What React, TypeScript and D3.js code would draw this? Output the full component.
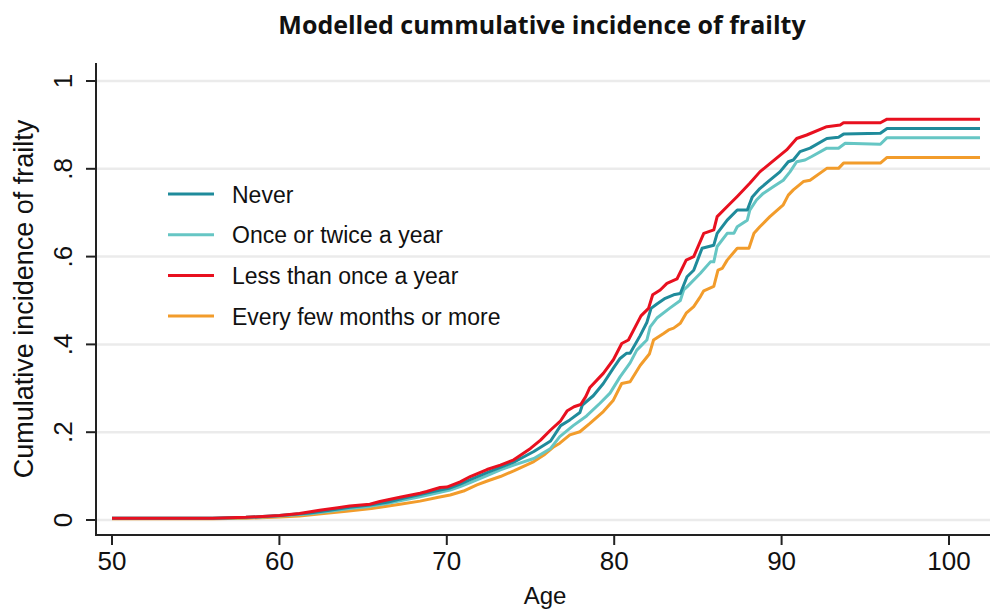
import React from "react";
import * as d3 from "d3";

const title = "Modelled cummulative incidence of frailty";
const xTicks = [50, 60, 70, 80, 90, 100];
const yTicks = [0, 0.2, 0.4, 0.6, 0.8, 1];
const yTickLabels = ["0", ".2", ".4", ".6", ".8", "1"];
const seriesNames = ["Never", "Once or twice a year", "Less than once a year", "Every few months or more"];
const seriesColors = ["#1f8b9b", "#66c6c4", "#e8101f", "#f29c2b"];

// [age, cumulative incidence]
const never: [number, number][] = [
  [50, 0.004], [56, 0.004], [58, 0.006], [60, 0.01], [61.8, 0.016], [63, 0.022], [64.2, 0.029], [65.4, 0.034],
  [66.5, 0.041], [67.2, 0.048], [68.4, 0.058], [69.6, 0.068], [70.2, 0.073], [70.8, 0.082], [71.4, 0.092],
  [72.4, 0.108], [73.2, 0.12], [74, 0.132], [75.2, 0.156], [76.2, 0.18], [76.8, 0.215], [77.35, 0.228],
  [77.95, 0.245], [78.1, 0.262], [78.75, 0.283], [79.35, 0.311], [79.95, 0.346], [80.35, 0.368], [80.75, 0.38],
  [80.95, 0.38], [81.55, 0.42], [81.95, 0.45], [82.2, 0.482], [82.55, 0.492], [83.05, 0.505], [83.55, 0.513],
  [83.95, 0.516], [84.35, 0.554], [84.75, 0.569], [85.25, 0.619], [85.95, 0.626], [86.15, 0.653], [86.75, 0.683],
  [87.35, 0.706], [87.95, 0.706], [88.25, 0.736], [88.7, 0.755], [89.3, 0.774], [89.9, 0.793], [90.4, 0.816],
  [90.7, 0.82], [91.1, 0.839], [91.7, 0.847], [92.7, 0.869], [93.4, 0.872], [93.7, 0.879], [95.9, 0.881],
  [96.3, 0.892], [101.85, 0.892],
];

const onceTwice: [number, number][] = [
  [50, 0.004], [56, 0.004], [58, 0.005], [60, 0.009], [61.8, 0.014], [63, 0.02], [64.2, 0.026], [65.4, 0.031],
  [66.5, 0.038], [67.2, 0.044], [68.4, 0.053], [69.6, 0.063], [70.2, 0.068], [70.8, 0.076], [71.4, 0.085],
  [72.4, 0.101], [73.2, 0.114], [74, 0.125], [75.2, 0.14], [76.2, 0.163], [76.75, 0.19], [77.55, 0.215],
  [78.35, 0.237], [79.15, 0.266], [79.75, 0.289], [80.35, 0.326], [80.95, 0.358], [81.35, 0.387], [81.95, 0.41],
  [82.15, 0.44], [82.55, 0.46], [83.3, 0.482], [83.95, 0.5], [84.15, 0.524], [84.35, 0.531], [85.15, 0.562],
  [85.75, 0.588], [85.95, 0.588], [86.15, 0.623], [86.75, 0.653], [87.15, 0.653], [87.35, 0.668], [87.95, 0.683],
  [88.1, 0.706], [88.5, 0.729], [88.9, 0.744], [89.5, 0.759], [90.1, 0.774], [90.5, 0.793], [90.9, 0.816],
  [91.4, 0.82], [91.8, 0.828], [92.7, 0.847], [93.4, 0.847], [93.8, 0.858], [95.9, 0.856], [96.3, 0.871],
  [101.85, 0.871],
];

const lessThanOnce: [number, number][] = [
  [50, 0.004], [56, 0.004], [58, 0.006], [60, 0.01], [61.2, 0.015], [62.4, 0.022], [63.5, 0.028], [64.2, 0.032],
  [65.4, 0.036], [66, 0.042], [67.2, 0.052], [68.4, 0.061], [68.8, 0.065], [69.6, 0.074], [70, 0.075],
  [70.8, 0.087], [71.4, 0.099], [72.4, 0.115], [73.2, 0.125], [74, 0.137], [75, 0.163], [75.6, 0.182],
  [76.2, 0.205], [76.8, 0.226], [77.2, 0.249], [77.6, 0.258], [78, 0.263], [78.3, 0.281], [78.55, 0.302],
  [79.15, 0.326], [79.35, 0.334], [79.95, 0.365], [80.45, 0.402], [80.85, 0.41], [81.6, 0.465], [82.05, 0.482],
  [82.3, 0.513], [82.75, 0.524], [83.15, 0.539], [83.75, 0.549], [84.3, 0.592], [84.75, 0.6], [85.35, 0.653],
  [85.95, 0.661], [86.15, 0.691], [86.75, 0.714], [87.35, 0.737], [88.1, 0.767], [88.7, 0.793], [89.3, 0.812],
  [90.3, 0.843], [90.9, 0.869], [91.5, 0.877], [92.7, 0.896], [93.5, 0.9], [93.7, 0.905], [95.9, 0.905],
  [96.3, 0.913], [101.85, 0.913],
];

const everyFewMonths: [number, number][] = [
  [50, 0.003], [56, 0.003], [58, 0.004], [60, 0.007], [61.2, 0.009], [62.5, 0.014], [64, 0.02], [65.5, 0.026],
  [67.2, 0.036], [68.4, 0.043], [69.5, 0.052], [70.2, 0.057], [71, 0.066], [71.8, 0.08], [72.5, 0.09],
  [73.2, 0.099], [74, 0.112], [75.2, 0.133], [75.8, 0.148], [76.4, 0.167], [76.75, 0.175], [77.35, 0.194],
  [77.95, 0.201], [78.55, 0.22], [79.35, 0.247], [79.95, 0.273], [80.45, 0.311], [80.95, 0.315], [81.55, 0.352],
  [82.1, 0.378], [82.35, 0.41], [82.95, 0.425], [83.25, 0.433], [83.55, 0.437], [83.95, 0.448], [84.3, 0.471],
  [84.75, 0.486], [85.15, 0.509], [85.35, 0.522], [85.95, 0.532], [86.2, 0.569], [86.45, 0.573], [86.75, 0.592],
  [87.35, 0.619], [88.05, 0.619], [88.35, 0.653], [88.7, 0.668], [89.3, 0.691], [90.1, 0.718], [90.4, 0.74],
  [90.7, 0.752], [91.3, 0.771], [91.7, 0.774], [92.7, 0.801], [93.4, 0.801], [93.7, 0.813], [95.9, 0.813],
  [96.3, 0.826], [101.85, 0.826],
];

const allSeries = [never, onceTwice, lessThanOnce, everyFewMonths];
const drawOrder = [3, 1, 0, 2];

const W = 990;
const H = 609;
const axisX = 96;
const axisY = 535;
const rightEdge = 990;
const axisTop = 63;

export default function App() {
  const x = d3.scaleLinear().domain([50, 100]).range([112, 949]);
  const y = d3.scaleLinear().domain([0, 1]).range([520, 81]);
  const line = d3
    .line<[number, number]>()
    .x((d) => x(d[0]))
    .y((d) => y(d[1]))
    .curve(d3.curveLinear);

  const font = "'Liberation Sans', Arial, Helvetica, sans-serif";

  return (
    <svg
      width={W}
      height={H}
      viewBox={`0 0 ${W} ${H}`}
      style={{ position: "absolute", left: 0, top: 0, background: "#fff" }}
    >
      <rect x={0} y={0} width={W} height={H} fill="#fff" />
      <text
        x={542}
        y={34}
        textAnchor="middle"
        fontFamily="'Open Sans', 'DejaVu Sans', sans-serif"
        fontWeight={700}
        fontSize={25}
        fill="#111"
      >
        {title}
      </text>

      {/* gridlines */}
      {yTicks.map((t) => (
        <line key={"g" + t} x1={axisX + 1} x2={rightEdge} y1={y(t)} y2={y(t)} stroke="#ebebeb" strokeWidth={2.5} />
      ))}

      {/* series */}
      {drawOrder.map((i) => (
        <path
          key={seriesNames[i]}
          d={line(allSeries[i]) || ""}
          fill="none"
          stroke={seriesColors[i]}
          strokeWidth={3}
          strokeLinejoin="round"
        />
      ))}

      {/* axes */}
      <line x1={axisX} x2={axisX} y1={axisTop} y2={axisY + 1} stroke="#222" strokeWidth={2} />
      <line x1={axisX - 1} x2={rightEdge} y1={axisY} y2={axisY} stroke="#222" strokeWidth={2} />

      {yTicks.map((t, i) => (
        <g key={"yt" + t}>
          <line x1={axisX - 10} x2={axisX} y1={y(t)} y2={y(t)} stroke="#222" strokeWidth={2} />
          <text
            transform={`translate(${72},${y(t)}) rotate(-90)`}
            textAnchor="middle"
            fontFamily={font}
            fontSize={26}
            fill="#111"
          >
            {yTickLabels[i]}
          </text>
        </g>
      ))}

      {xTicks.map((t) => (
        <g key={"xt" + t}>
          <line x1={x(t)} x2={x(t)} y1={axisY} y2={axisY + 10} stroke="#222" strokeWidth={2} />
          <text x={x(t)} y={570} textAnchor="middle" fontFamily={font} fontSize={26} fill="#111">
            {t}
          </text>
        </g>
      ))}

      <text x={545} y={604} textAnchor="middle" fontFamily={font} fontSize={24} fill="#111">
        Age
      </text>
      <text
        transform={`translate(${33},${299}) rotate(-90)`}
        textAnchor="middle"
        fontFamily={font}
        fontSize={27}
        fill="#111"
      >
        Cumulative incidence of frailty
      </text>

      {/* legend */}
      {seriesNames.map((name, i) => {
        const ly = 194 + i * 40.7;
        return (
          <g key={"lg" + name}>
            <line x1={168} x2={214} y1={ly} y2={ly} stroke={seriesColors[i]} strokeWidth={3} />
            <text x={232} y={ly + 8.5} fontFamily={font} fontSize={23} fill="#111">
              {name}
            </text>
          </g>
        );
      })}
    </svg>
  );
}
